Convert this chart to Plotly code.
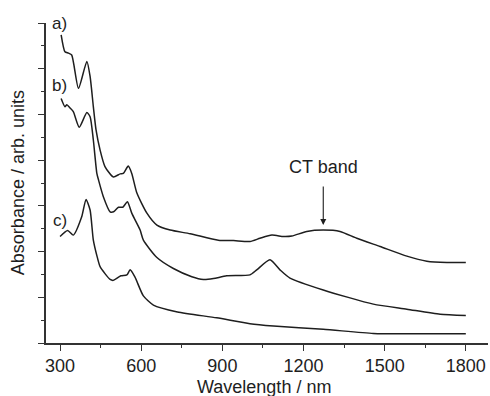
import plotly.graph_objects as go

# Wavelength (nm) and absorbance (arb. units, offset) for each spectrum
wl_a = [304, 318, 331, 343, 368, 399, 411, 423, 433, 448, 466, 497, 522, 534, 552, 565, 584, 621, 658, 707,
        781, 885, 941, 1002, 1039, 1083, 1126, 1157, 1212, 1273, 1335, 1397, 1483, 1582, 1656, 1730, 1800]
abs_a = [6.74, 6.37, 6.34, 6.30, 5.57, 6.16, 5.83, 5.17, 4.66, 4.22, 3.86, 3.63, 3.70, 3.71, 3.87, 3.71, 3.28,
         2.84, 2.58, 2.47, 2.39, 2.25, 2.24, 2.22, 2.29, 2.36, 2.33, 2.34, 2.44, 2.47, 2.44, 2.29, 2.11, 1.90,
         1.79, 1.76, 1.76]

wl_b = [304, 318, 325, 337, 349, 371, 399, 411, 423, 436, 442, 460, 485, 498, 516, 532, 549, 565, 596, 608,
        658, 719, 787, 830, 867, 916, 1002, 1027, 1076, 1113, 1150, 1273, 1458, 1582, 1705, 1800]
abs_b = [5.35, 5.17, 5.21, 5.14, 5.06, 4.72, 5.04, 4.95, 4.44, 3.71, 3.57, 3.20, 2.87, 2.87, 2.97, 2.97, 3.09,
         2.84, 2.47, 2.25, 1.87, 1.63, 1.45, 1.39, 1.41, 1.47, 1.49, 1.60, 1.82, 1.60, 1.42, 1.16, 0.85, 0.74,
         0.63, 0.60]

wl_c = [300, 328, 349, 380, 396, 411, 423, 437, 448, 485, 497, 525, 547, 559, 577, 608, 645, 734, 879, 1002,
        1089, 1273, 1458, 1582, 1800]
abs_c = [2.33, 2.46, 2.36, 2.76, 3.14, 2.91, 2.25, 1.89, 1.67, 1.39, 1.37, 1.47, 1.49, 1.60, 1.44, 1.03, 0.83,
         0.68, 0.55, 0.42, 0.37, 0.30, 0.21, 0.20, 0.20]

series = [("a)", wl_a, abs_a), ("b)", wl_b, abs_b), ("c)", wl_c, abs_c)]
label_pos = {"a)": (298, 7.0), "b)": (298, 5.63), "c)": (298, 2.67)}

x_ticks = [300, 600, 900, 1200, 1500, 1800]
ct_band = (1273, 2.58)

FONT = "Liberation Sans, Arial, sans-serif"
INK = "#1e1e1e"

fig = go.Figure()
for name, xs, ys in series:
    fig.add_trace(go.Scatter(x=xs, y=ys, mode="lines", name=name,
                             line=dict(color=INK, width=1.5, shape="spline", smoothing=0.6),
                             showlegend=False, hoverinfo="skip"))

annotations = []
for name, (lx, ly) in label_pos.items():
    annotations.append(dict(x=lx, y=ly, xref="x", yref="y", text=name, showarrow=False,
                            font=dict(size=17, color=INK, family=FONT), xanchor="center", yanchor="middle"))

annotations.append(dict(x=ct_band[0], y=ct_band[1], xref="x", yref="y", text="", showarrow=True,
                        ax=0, ay=-40, arrowhead=2, arrowsize=1.1, arrowwidth=1.1, arrowcolor=INK,
                        standoff=0))
annotations.append(dict(x=ct_band[0], y=3.84, xref="x", yref="y", text="CT band", showarrow=False,
                        font=dict(size=18, color=INK, family=FONT), xanchor="center", yanchor="middle"))

annotations.append(dict(x=-0.063, y=0.5, xref="paper", yref="paper", text="Absorbance / arb. units",
                        textangle=-90, showarrow=False, font=dict(size=18, color=INK, family=FONT),
                        xanchor="center", yanchor="middle"))
annotations.append(dict(x=0.494, y=-0.137, xref="paper", yref="paper", text="Wavelength / nm",
                        showarrow=False, font=dict(size=18, color=INK, family=FONT),
                        xanchor="center", yanchor="middle"))

fig.update_layout(
    width=490, height=396,
    margin=dict(l=46, r=2, t=23, b=53),
    paper_bgcolor="white", plot_bgcolor="white",
    font=dict(family=FONT, size=18, color=INK),
    annotations=annotations,
    xaxis=dict(range=[248, 1882], tickvals=x_ticks, ticktext=[str(v) for v in x_ticks],
               ticks="outside", ticklen=6, tickwidth=1.2, tickcolor="#333",
               showline=True, linecolor="#333", linewidth=1.5, showgrid=False, zeroline=False,
               tickfont=dict(size=18, color=INK, family=FONT),
               minor=dict(tickvals=[450, 750, 1050, 1350, 1650], ticks="outside", ticklen=3,
                          tickwidth=1.2, tickcolor="#333", showgrid=False)),
    yaxis=dict(range=[0, 7], dtick=1, tick0=0, showticklabels=False,
               ticks="outside", ticklen=6, tickwidth=1.2, tickcolor="#333",
               showline=True, linecolor="#333", linewidth=1.5, showgrid=False, zeroline=False,
               minor=dict(dtick=0.5, tick0=0, ticks="outside", ticklen=3.5, tickwidth=1.2,
                          tickcolor="#333", showgrid=False)),
)

fig.write_html("out.html", config={"displayModeBar": False},
               post_script="document.body.style.margin='0';document.body.style.overflow='hidden';")
